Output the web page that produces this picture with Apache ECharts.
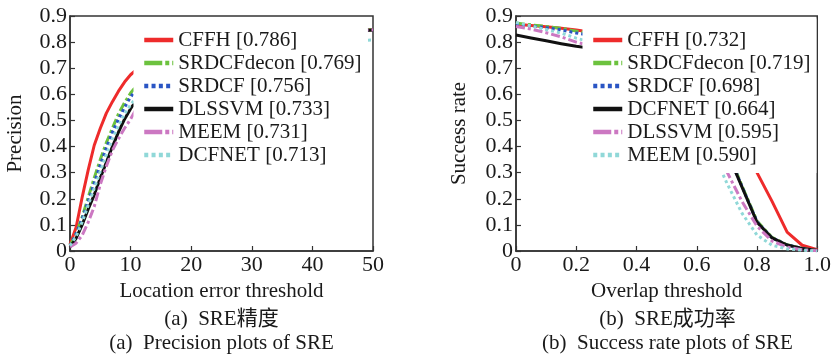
<!DOCTYPE html>
<html>
<head>
<meta charset="utf-8">
<script src="https://cdn.jsdelivr.net/npm/echarts@6/dist/echarts.min.js"></script>
<style>html,body{margin:0;padding:0;background:#fff}#c{width:834px;height:355px}</style>
</head>
<body>
<div id="c"></div>
<script>
// ---- Precision plot (left) ----
const precX = [0,1,2,3,4,5,6,7,8,9,10,12,14,16,18,20,25,30,35,40,45,50];
const precNames = ['CFFH','SRDCFdecon','SRDCF','DLSSVM','MEEM','DCFNET'];
const precScores = [0.786,0.769,0.756,0.733,0.731,0.713];
const precCFFH = [0.025,0.09,0.205,0.31,0.405,0.47,0.528,0.572,0.612,0.647,0.675,0.715,0.745,0.765,0.777,0.786,0.805,0.818,0.828,0.836,0.842,0.847];
const precSRDCFdecon = [0.02,0.066,0.13,0.205,0.28,0.35,0.415,0.47,0.525,0.568,0.605,0.66,0.70,0.73,0.752,0.769,0.80,0.818,0.83,0.838,0.843,0.847];
const precSRDCF = [0.02,0.065,0.123,0.19,0.26,0.33,0.395,0.455,0.505,0.55,0.59,0.65,0.69,0.718,0.74,0.756,0.79,0.81,0.825,0.835,0.842,0.846];
const precDLSSVM = [0.015,0.048,0.10,0.16,0.215,0.28,0.34,0.40,0.455,0.505,0.545,0.61,0.655,0.69,0.715,0.733,0.77,0.795,0.815,0.83,0.84,0.846];
const precMEEM = [0.015,0.03,0.06,0.11,0.17,0.255,0.325,0.385,0.43,0.47,0.505,0.59,0.64,0.68,0.71,0.731,0.77,0.795,0.815,0.83,0.84,0.847];
const precDCFNET = [0.02,0.055,0.11,0.175,0.24,0.305,0.37,0.43,0.48,0.525,0.56,0.62,0.66,0.685,0.70,0.713,0.745,0.77,0.785,0.795,0.803,0.808];
const precXTicks = [0,10,20,30,40,50];
const precYTicks = [0,0.1,0.2,0.3,0.4,0.5,0.6,0.7,0.8,0.9];

// ---- Success plot (right) ----
const succX = [0,0.05,0.1,0.15,0.2,0.25,0.3,0.35,0.4,0.45,0.5,0.55,0.6,0.65,0.7,0.75,0.8,0.85,0.9,0.95,1.0];
const succNames = ['CFFH','SRDCFdecon','SRDCF','DCFNET','DLSSVM','MEEM'];
const succScores = [0.732,0.719,0.698,0.664,0.595,0.590];
const succCFFH = [0.868,0.864,0.859,0.853,0.846,0.838,0.828,0.815,0.800,0.780,0.755,0.720,0.675,0.600,0.510,0.410,0.300,0.190,0.072,0.022,0.005];
const succSRDCFdecon = [0.873,0.866,0.860,0.853,0.842,0.832,0.820,0.805,0.785,0.760,0.725,0.680,0.615,0.520,0.390,0.250,0.115,0.052,0.024,0.010,0.002];
const succSRDCF = [0.870,0.862,0.855,0.847,0.835,0.825,0.812,0.796,0.776,0.750,0.715,0.670,0.605,0.510,0.385,0.248,0.112,0.050,0.023,0.010,0.002];
const succDCFNET = [0.827,0.816,0.805,0.794,0.784,0.776,0.765,0.752,0.735,0.712,0.680,0.640,0.585,0.500,0.380,0.245,0.110,0.050,0.023,0.010,0.002];
const succDLSSVM = [0.860,0.850,0.836,0.820,0.800,0.785,0.770,0.750,0.725,0.695,0.655,0.600,0.530,0.420,0.304,0.190,0.095,0.038,0.015,0.005,0.001];
const succMEEM = [0.875,0.862,0.848,0.835,0.815,0.800,0.785,0.765,0.740,0.710,0.670,0.615,0.510,0.390,0.260,0.145,0.061,0.022,0.008,0.003,0.000];
const succXTicks = ['0','0.2','0.4','0.6','0.8','1.0'];
const succYTicks = [0,0.1,0.2,0.3,0.4,0.5,0.6,0.7,0.8,0.9];

const precSeries = [precCFFH, precSRDCFdecon, precSRDCF, precDLSSVM, precMEEM, precDCFNET];
const succSeries = [succCFFH, succSRDCFdecon, succSRDCF, succDCFNET, succDLSSVM, succMEEM];

// styles by legend slot
const colors = ['#ee2b2b','#6cc23e','#2a55c4','#111111','#cc78c2','#90d8d8'];
const plotDash = ['solid',[9,3,3,3],[3,3],'solid',[9,3,3,3],[3,3]];
const legDash = ['solid',[18,3,4,3],[4,3.3],'solid',[18,3,4,3],[4,3.3]];

const FONT = 'Liberation Serif';
const txtColor = '#1a1a1a';
const axisColor = '#333';

function label(n, s){ return n + ' [' + s.toFixed(3) + ']'; }

function axisCommon(){
  return {
    axisLine: {show: true, lineStyle: {color: axisColor, width: 1.5}},
    axisTick: {show: true, inside: true, length: 5, lineStyle: {color: axisColor, width: 1.2}},
    axisLabel: {color: txtColor, fontFamily: FONT, fontSize: 22, margin: 3},
    splitLine: {show: false},
    nameTextStyle: {color: txtColor, fontFamily: FONT, fontSize: 21}
  };
}

const series = [];
precSeries.forEach((vals, i) => {
  series.push({
    type: 'line', name: label(precNames[i], precScores[i]),
    xAxisIndex: 0, yAxisIndex: 0, symbol: 'none', showSymbol: false, smooth: false,
    legendIcon: 'none',
    lineStyle: {color: colors[i], width: 3, type: plotDash[i], join: 'round'},
    itemStyle: {color: colors[i]},
    data: precX.map((x, k) => [x, vals[k]])
  });
});
succSeries.forEach((vals, i) => {
  series.push({
    type: 'line', name: label(succNames[i], succScores[i]),
    xAxisIndex: 1, yAxisIndex: 1, symbol: 'none', showSymbol: false, smooth: false,
    legendIcon: 'none',
    lineStyle: {color: colors[i], width: 3, type: plotDash[i], join: 'round'},
    itemStyle: {color: colors[i]},
    data: succX.map((x, k) => [x, vals[k]])
  });
});

function legendData(names, scores){
  return names.map((n, i) => ({
    name: label(n, scores[i]),
    lineStyle: {color: colors[i], width: 4.5, type: legDash[i], opacity: 1},
    itemStyle: {color: colors[i], opacity: 0},
    textStyle: {color: txtColor, fontFamily: FONT, fontSize: 21, lineHeight: 23}
  }));
}

const legendCommon = {
  orient: 'vertical', z: 20, backgroundColor: '#ffffff',
  itemWidth: 29, itemHeight: 14, itemGap: 0, selectedMode: false,
  textStyle: {color: txtColor, fontFamily: FONT, fontSize: 21, lineHeight: 23}
};

const chart = echarts.init(document.getElementById('c'), null, {renderer: 'canvas'});
chart.setOption({
  animation: false,
  backgroundColor: '#ffffff',
  textStyle: {fontFamily: FONT},
  grid: [
    {left: 70, right: 461, top: 16, bottom: 104, show: true, borderColor: axisColor, borderWidth: 1.5, backgroundColor: 'transparent'},
    {left: 516, right: 15, top: 16, bottom: 104, show: true, borderColor: axisColor, borderWidth: 1.5, backgroundColor: 'transparent'}
  ],
  xAxis: [
    Object.assign(axisCommon(), {
      type: 'value', gridIndex: 0, min: precXTicks[0], max: precXTicks[precXTicks.length-1],
      interval: precXTicks[1] - precXTicks[0],
      name: 'Location error threshold', nameLocation: 'middle', nameGap: 30
    }),
    Object.assign(axisCommon(), {
      type: 'value', gridIndex: 1, min: 0, max: 1, interval: 0.2,
      name: 'Overlap threshold', nameLocation: 'middle', nameGap: 30,
      axisLabel: {color: txtColor, fontFamily: FONT, fontSize: 22, margin: 3,
        formatter: v => succXTicks[Math.round(v / 0.2)]}
    })
  ],
  yAxis: [
    Object.assign(axisCommon(), {
      type: 'value', gridIndex: 0, min: precYTicks[0], max: precYTicks[precYTicks.length-1], interval: 0.1,
      name: 'Precision', nameLocation: 'middle', nameGap: 44
    }),
    Object.assign(axisCommon(), {
      type: 'value', gridIndex: 1, min: succYTicks[0], max: succYTicks[succYTicks.length-1], interval: 0.1,
      name: 'Success rate', nameLocation: 'middle', nameGap: 46
    })
  ],
  legend: [
    Object.assign({}, legendCommon, {left: 133.5, top: 18.5, padding: [10, 6.5, 8, 8.5], data: legendData(precNames, precScores)}),
    Object.assign({}, legendCommon, {left: 582.5, top: 18.5, padding: [10, 6, 6.5, 8.5], data: legendData(succNames, succScores)})
  ],
  graphic: [
    {type: 'text', style: {text: '(a)  SRE精度', x: 221.5, y: 319, textAlign: 'center', textVerticalAlign: 'middle', font: '21px "Liberation Serif","Noto Sans CJK SC"', fill: txtColor}},
    {type: 'text', style: {text: '(a)  Precision plots of SRE', x: 221.5, y: 343, textAlign: 'center', textVerticalAlign: 'middle', font: '21px "Liberation Serif"', fill: txtColor}},
    {type: 'text', style: {text: '(b)  SRE成功率', x: 667.5, y: 319, textAlign: 'center', textVerticalAlign: 'middle', font: '21px "Liberation Serif","Noto Sans CJK SC"', fill: txtColor}},
    {type: 'text', style: {text: '(b)  Success rate plots of SRE', x: 667.5, y: 343, textAlign: 'center', textVerticalAlign: 'middle', font: '21px "Liberation Serif"', fill: txtColor}}
  ],
  series: series
});
</script>
</body>
</html>
